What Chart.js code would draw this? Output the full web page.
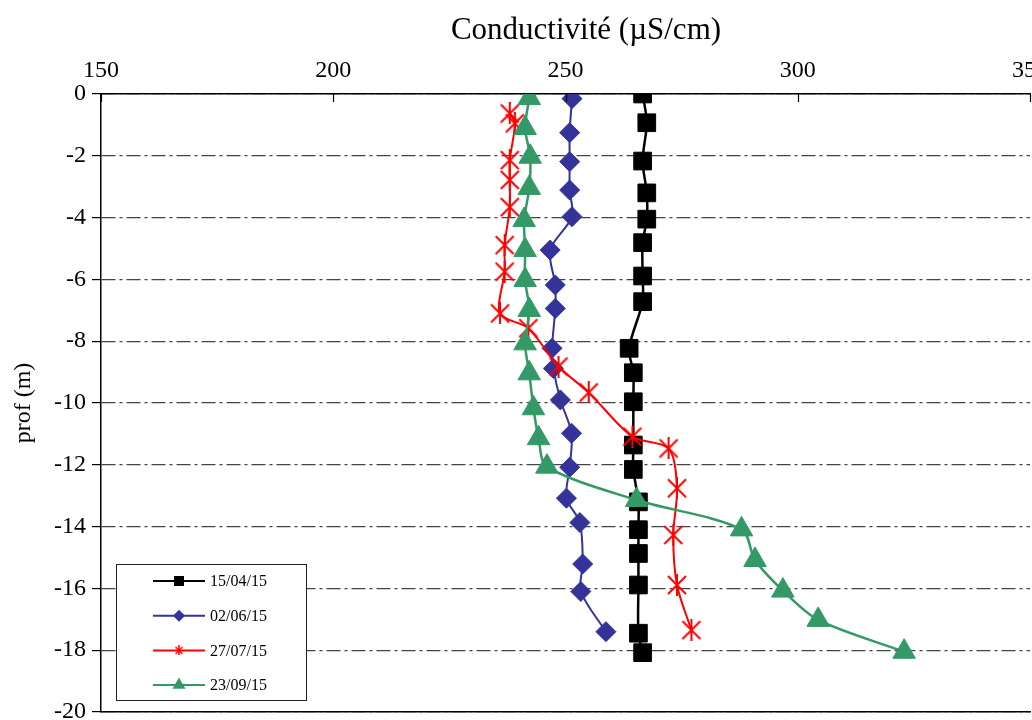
<!DOCTYPE html>
<html>
<head>
<meta charset="utf-8">
<script src="https://cdn.jsdelivr.net/npm/chart.js@4.4.1/dist/chart.umd.min.js"></script>
<style>
  html, body { margin: 0; padding: 0; background: #fff; }
</style>
</head>
<body>
<canvas id="condChart" width="1032" height="720"></canvas>
<script>
const seriesLabels = ["15/04/15", "02/06/15", "27/07/15", "23/09/15"];
const xTitle = "Conductivité (µS/cm)";
const yTitle = "prof (m)";

// depth (m, negative) / conductivity (µS/cm) per campaign
const depth1504 = [0, -0.93, -2.17, -3.2, -4.05, -4.81, -5.89, -6.72, -8.23, -9.02, -9.96, -11.36, -12.15, -13.2, -14.1, -14.87, -15.89, -17.45, -18.08];
const cond1504 = [266.6, 267.5, 266.6, 267.5, 267.5, 266.6, 266.6, 266.6, 263.7, 264.6, 264.6, 264.6, 264.6, 265.7, 265.7, 265.7, 265.7, 265.7, 266.6];

const depth0206 = [-0.15, -1.25, -2.19, -3.11, -3.97, -5.05, -6.18, -6.94, -8.23, -8.88, -9.9, -10.98, -12.08, -13.08, -13.87, -15.21, -16.1, -17.4];
const cond0206 = [251.4, 250.9, 250.9, 250.9, 251.4, 246.7, 247.8, 247.8, 247.1, 247.4, 248.9, 251.3, 250.9, 250.2, 253.1, 253.7, 253.3, 258.7];

const depth2707 = [-0.63, -0.95, -2.14, -2.78, -3.66, -4.89, -5.75, -7.1, -7.58, -8.82, -9.66, -11.09, -11.47, -12.76, -14.27, -15.89, -17.35];
const cond2707 = [238.0, 239.1, 238.0, 238.0, 238.0, 236.9, 236.9, 235.9, 242.0, 248.5, 255.0, 264.4, 272.2, 274.0, 273.2, 274.0, 277.1];

const depth2309 = [-0.13, -1.1, -2.03, -3.04, -4.08, -5.05, -6.02, -6.99, -8.07, -9.04, -10.17, -11.14, -12.06, -13.14, -14.09, -15.08, -16.07, -17.02, -18.05];
const cond2309 = [242.2, 241.3, 242.4, 242.2, 241.1, 241.3, 241.3, 242.2, 241.3, 242.2, 243.1, 244.2, 246.0, 265.3, 287.9, 290.8, 296.8, 304.4, 322.9];

const serif = "'Liberation Serif', 'Times New Roman', serif";

function toPoints(xs, ys) {
  return xs.map((x, i) => ({ x: x, y: ys[i] }));
}

// excel-like asterisk marker (X with a vertical bar)
function makeStar(size, color, width) {
  const c = document.createElement("canvas");
  c.width = size;
  c.height = size;
  const g = c.getContext("2d");
  const m = width;
  g.strokeStyle = color;
  g.lineWidth = width;
  g.beginPath();
  g.moveTo(m, m);
  g.lineTo(size - m, size - m);
  g.moveTo(size - m, m);
  g.lineTo(m, size - m);
  g.moveTo(size / 2, 0);
  g.lineTo(size / 2, size);
  g.stroke();
  return c;
}
const starBig = makeStar(22, "#ff0000", 2);
const starSmall = makeStar(10, "#ff0000", 1.5);

// title above the top axis + ticks on the top axis pointing into the plot
const topAxisExtras = {
  id: "topAxisExtras",
  afterDraw(chart) {
    const ctx = chart.ctx;
    const sx = chart.scales.x;
    const top = chart.chartArea.top;
    ctx.save();
    ctx.strokeStyle = "#000";
    ctx.lineWidth = 1.2;
    sx.ticks.forEach((t) => {
      const px = Math.round(sx.getPixelForValue(t.value)) + 0.5;
      ctx.beginPath();
      ctx.moveTo(px, top);
      ctx.lineTo(px, top + 8);
      ctx.stroke();
    });
    ctx.fillStyle = "#000";
    ctx.font = "31px " + serif;
    ctx.textAlign = "center";
    ctx.textBaseline = "middle";
    ctx.fillText(xTitle, 586, 31);
    ctx.restore();
  },
};

// legend box inside the plot, bottom left
const legendRadius = [6, 5, 0, 6];
const insideLegend = {
  id: "insideLegend",
  afterDraw(chart) {
    const ctx = chart.ctx;
    ctx.save();
    ctx.fillStyle = "#fff";
    ctx.fillRect(116, 564, 190, 136);
    ctx.strokeStyle = "#222";
    ctx.lineWidth = 1;
    ctx.strokeRect(116.5, 564.5, 190, 136);
    chart.data.datasets.forEach((ds, i) => {
      const y = 581 + i * 34.7;
      ctx.strokeStyle = ds.borderColor;
      ctx.lineWidth = 2;
      ctx.beginPath();
      ctx.moveTo(153, y);
      ctx.lineTo(205, y);
      ctx.stroke();
      ctx.fillStyle = ds.backgroundColor;
      ctx.lineWidth = 1.5;
      const style = ds.pointStyle === starBig ? starSmall : ds.pointStyle;
      Chart.helpers.drawPoint(ctx, { pointStyle: style, radius: legendRadius[i], rotation: 0, borderWidth: 1.5 }, 179, y);
      ctx.fillStyle = "#000";
      ctx.font = "16px " + serif;
      ctx.textBaseline = "middle";
      ctx.textAlign = "left";
      ctx.fillText(ds.label, 210, y + 1);
    });
    ctx.restore();
  },
};

new Chart(document.getElementById("condChart"), {
  type: "scatter",
  data: {
    datasets: [
      {
        label: seriesLabels[0],
        data: toPoints(cond1504, depth1504),
        borderColor: "#000000",
        backgroundColor: "#000000",
        borderWidth: 2.5,
        pointStyle: "rect",
        pointRadius: 12.5,
        pointBorderWidth: 1,
        showLine: true,
        tension: 0.3,
        order: 4,
      },
      {
        label: seriesLabels[1],
        data: toPoints(cond0206, depth0206),
        borderColor: "#333399",
        backgroundColor: "#333399",
        borderWidth: 2,
        pointStyle: "rectRot",
        pointRadius: 10,
        pointBorderWidth: 1,
        showLine: true,
        tension: 0.3,
        order: 3,
      },
      {
        label: seriesLabels[2],
        data: toPoints(cond2707, depth2707),
        borderColor: "#ff0000",
        backgroundColor: "#ff0000",
        borderWidth: 2,
        pointStyle: starBig,
        pointRadius: 10,
        showLine: true,
        tension: 0.3,
        order: 2,
      },
      {
        label: seriesLabels[3],
        data: toPoints(cond2309, depth2309),
        borderColor: "#339966",
        backgroundColor: "#339966",
        borderWidth: 2.5,
        pointStyle: "triangle",
        pointRadius: 13,
        pointBorderWidth: 1,
        showLine: true,
        tension: 0.3,
        order: 1,
      },
    ],
  },
  options: {
    responsive: false,
    animation: false,
    layout: { autoPadding: false, padding: { left: 0, top: 0, right: 2, bottom: 0 } },
    plugins: {
      legend: { display: false },
      tooltip: { enabled: false },
    },
    scales: {
      x: {
        type: "linear",
        position: "top",
        min: 150,
        max: 350,
        ticks: { stepSize: 50, color: "#000", font: { family: serif, size: 24 }, padding: 9 },
        grid: { drawOnChartArea: false, drawTicks: false },
        border: { display: true, color: "#000", width: 1.5 },
        afterFit(scale) {
          scale.height = 94;
          scale.paddingLeft = 0;
          scale.paddingRight = 0;
        },
      },
      x2: {
        type: "linear",
        position: "bottom",
        min: 150,
        max: 350,
        ticks: { display: false },
        grid: { drawOnChartArea: false, drawTicks: false },
        border: { display: true, color: "#000", width: 1.5 },
        afterFit(scale) {
          scale.height = 8;
          scale.paddingLeft = 0;
          scale.paddingRight = 0;
        },
      },
      y: {
        type: "linear",
        min: -20,
        max: 0,
        ticks: { stepSize: 2, color: "#000", font: { family: serif, size: 24 }, padding: 6 },
        grid: {
          color: "#444444",
          lineWidth: 1.2,
          drawTicks: true,
          tickLength: 9,
          tickColor: "#000",
          tickWidth: 1.2,
        },
        border: { display: true, color: "#000", width: 1.5, dash: [14, 4, 3, 4] },
        title: {
          display: true,
          text: yTitle,
          color: "#000",
          font: { family: serif, size: 24 },
          padding: { top: 9, bottom: 0 },
        },
        afterFit(scale) {
          scale.width = 101;
          scale.paddingTop = 0;
          scale.paddingBottom = 0;
        },
      },
    },
  },
  plugins: [topAxisExtras, insideLegend],
});
</script>
</body>
</html>
